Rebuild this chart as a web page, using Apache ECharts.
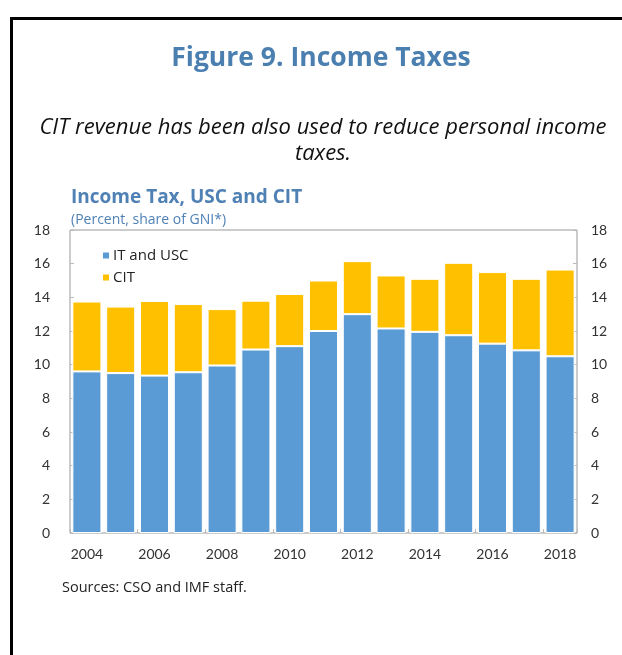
<!DOCTYPE html>
<html><head><meta charset="utf-8">
<script src="https://cdn.jsdelivr.net/npm/echarts@6/dist/echarts.min.js"></script>
<style>html,body{margin:0;padding:0;background:#fff}#c{width:622px;height:655px}</style>
</head><body><div id="c"></div>
<script>
const years = ['2004','2005','2006','2007','2008','2009','2010','2011','2012','2013','2014','2015','2016','2017','2018'];
const itUsc = [9.6,9.5,9.35,9.55,9.95,10.9,11.1,12.0,13.0,12.15,11.95,11.75,11.25,10.85,10.5];
const cit = [4.15,3.95,4.43,4.05,3.35,2.9,3.1,3.0,3.15,3.15,3.15,4.3,4.25,4.25,5.15];

const FONT = 'Lato, "Open Sans", sans-serif';
const OS = '"Open Sans", sans-serif';
const chart = echarts.init(document.getElementById('c'));
const yAxisBase = (pos) => ({
  type:'value', position:pos, min:0, max:18, interval:2,
  axisLine:{show:false},
  axisTick:{show:true, inside:true, length:4, lineStyle:{color:'#bbb'}},
  splitLine:{show:false},
  axisLabel:{color:'#333', fontSize:14, fontFamily:FONT, margin: pos==='left'?20:14}
});
chart.setOption({
  animation:false,
  graphic:[
    {type:'line', shape:{x1:11.5,y1:18,x2:11.5,y2:655}, style:{stroke:'#000',lineWidth:3}},
    {type:'line', shape:{x1:10,y1:18.5,x2:622,y2:18.5}, style:{stroke:'#000',lineWidth:3}},
    {type:'text', x:323, y:115, style:{text:'CIT revenue has been also used to reduce personal income\ntaxes.', fontSize:22, fontStyle:'italic', fontFamily:OS, fill:'#111', align:'center', verticalAlign:'top', lineHeight:26}},
    {type:'text', x:62, y:580, style:{text:'Sources: CSO and IMF staff.', fontSize:14.5, fontFamily:OS, fill:'#222'}},
    {type:'text', x:321, y:45, style:{text:'Figure 9. Income Taxes', fontSize:26.5, fontWeight:'bold', fill:'#4a7fb0', fontFamily:OS, align:'center', verticalAlign:'top'}}
  ],
  title:[
    {text:'Income Tax, USC and CIT', left:66, top:183, textStyle:{fontSize:19, fontWeight:'bold', color:'#4f81b5', fontFamily:OS}},
    {text:'(Percent, share of GNI*)', left:66, top:208, textStyle:{fontSize:14, fontWeight:'normal', color:'#4f81b5', fontFamily:OS}}
  ],
  legend:{
    orient:'vertical', left:96, top:243, itemWidth:8, itemHeight:8, itemGap:7,
    icon:'rect', textStyle:{fontSize:15, color:'#222', fontFamily:OS, padding:[0,0,0,-2]},
    data:['IT and USC','CIT']
  },
  grid:{left:70, right:45, top:230, bottom:122, show:true, borderColor:'#999', borderWidth:1, containLabel:false},
  xAxis:{
    type:'category', data:years,
    axisLine:{show:false},
    axisTick:{show:true, inside:true, length:4, lineStyle:{color:'#bbb'}},
    axisLabel:{interval:1, color:'#333', fontSize:14, fontFamily:FONT, margin:14}
  },
  yAxis:[yAxisBase('left'), yAxisBase('right')],
  series:[
    {name:'IT and USC', type:'bar', stack:'t', data:itUsc, barCategoryGap:'14%',
     itemStyle:{color:'#5b9bd5', borderColor:'#fff', borderWidth:1}},
    {name:'CIT', type:'bar', stack:'t', data:cit,
     itemStyle:{color:'#ffc000', borderColor:'#fff', borderWidth:1}}
  ]
});
</script></body></html>
